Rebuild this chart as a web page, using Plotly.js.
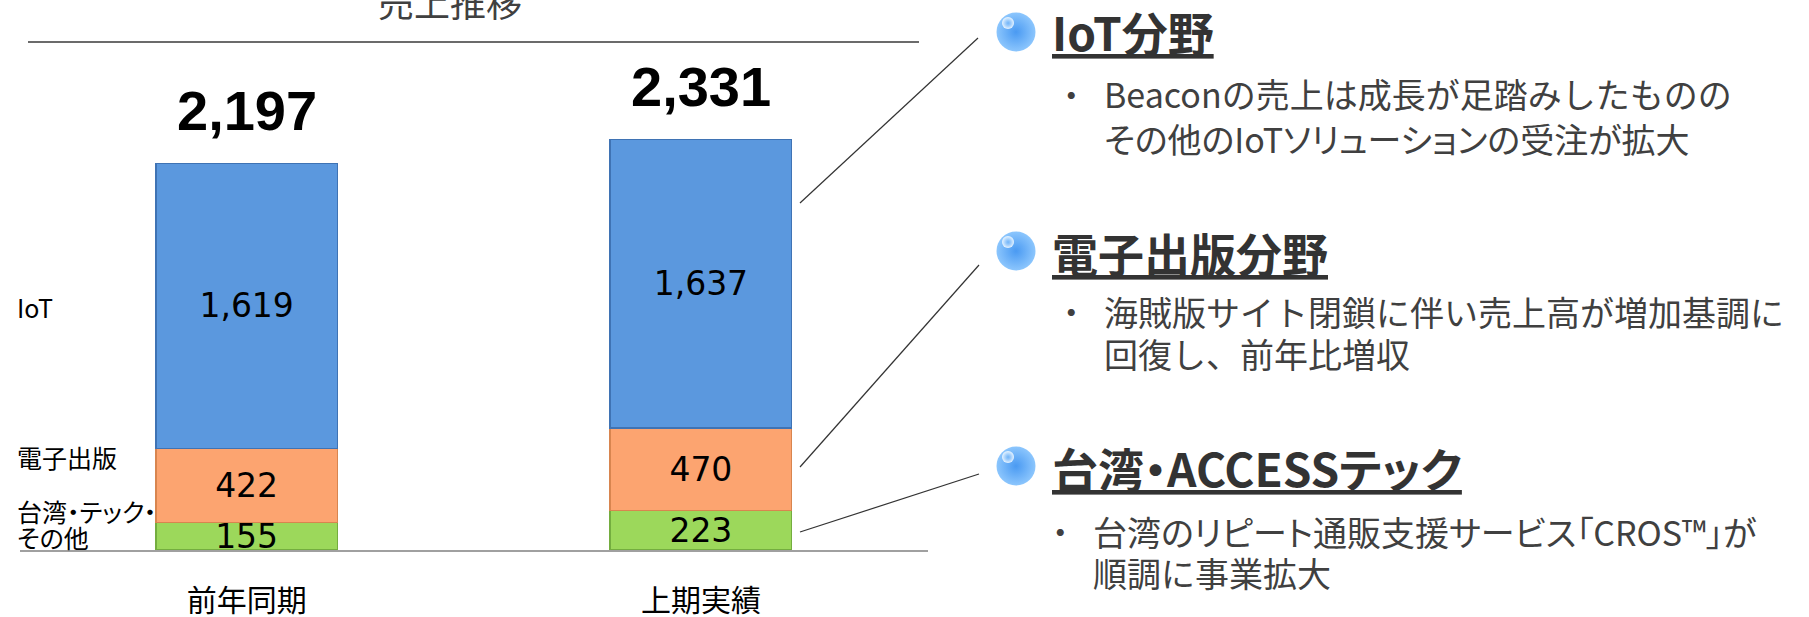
<!DOCTYPE html>
<html>
<head>
<meta charset="utf-8">
<script src="https://cdn.plot.ly/plotly-3.0.1.min.js"></script>
<style>
html,body{margin:0;padding:0;background:#ffffff;}
#chart{width:1809px;height:617px;}
</style>
</head>
<body>
<div id="chart"></div>
<script>
// ---------- DATA ----------
const categories = ['前年同期', '上期実績'];
const taiwanValues = [155, 223];
const ebookValues = [422, 470];
const iotValues = [1619, 1637];
const totals = [2197, 2331];
const chartTitle = '売上推移';
const sideLabels = ['IoT', '電子出版', '台湾・テック・', 'その他'];
const headings = ['IoT分野', '電子出版分野', '台湾・ACCESSテック'];
const noteLines = [
  ['Beaconの売上は成長が足踏みしたものの', 'その他のIoTソリューションの受注が拡大'],
  ['海賊版サイト閉鎖に伴い売上高が増加基調に', '回復し、前年比増収'],
  ['台湾のリピート通販支援サービス「CROS™」が', '順調に事業拡大']
];

// ---------- LAYOUT HELPERS ----------
const W = 1809, H = 617;
const px = x => x / W;
const py = y => 1 - y / H;
const fmt = v => v.toLocaleString('en-US');
const JP = '"Noto Sans CJK JP", "Noto Sans", sans-serif';
const palt = t => "<span style='font-feature-settings:\"palt\" 1'>" + t + "</span>";

function barTrace(name, vals, color, edge) {
  return {
    type: 'bar', name: name, x: categories, y: vals,
    text: vals.map(fmt), textposition: 'inside', insidetextanchor: 'middle',
    constraintext: 'none', textangle: 0,
    textfont: {family: '"DejaVu Sans", Verdana, sans-serif', size: 33, color: '#000000'},
    insidetextfont: {family: '"DejaVu Sans", Verdana, sans-serif', size: 33, color: '#000000'},
    marker: {color: color, line: {color: edge, width: 1.5}},
    width: 0.4, hoverinfo: 'skip', cliponaxis: false
  };
}

const traces = [
  barTrace('台湾・テック・その他', taiwanValues, '#9cd85b', '#74ad3f'),
  barTrace('電子出版', ebookValues, '#fca470', '#d8854f'),
  barTrace('IoT', iotValues, '#5b98de', '#3f73b4')
];

// decorative bullet spheres (pixel overlay axes)
const sphereX = [1016, 1016, 1016];
const sphereY = [32, 251, 466];
traces.push({
  type: 'scatter', mode: 'markers', x: sphereX, y: sphereY, xaxis: 'x2', yaxis: 'y2',
  marker: {size: 39, color: '#8cc6fd', gradient: {type: 'radial', color: '#4a9af2'}, line: {width: 0}},
  hoverinfo: 'skip', showlegend: false, cliponaxis: false
});
traces.push({
  type: 'scatter', mode: 'markers', x: sphereX.map(v => v - 8), y: sphereY.map(v => v - 9), xaxis: 'x2', yaxis: 'y2',
  marker: {size: 12, color: 'rgba(240,248,255,0.95)', gradient: {type: 'radial', color: 'rgba(200,228,255,0)'}, line: {width: 0}},
  hoverinfo: 'skip', showlegend: false, cliponaxis: false
});

const annotations = [];
// totals above bars
categories.forEach((c, i) => {
  annotations.push({
    x: c, y: totals[i], xref: 'x', yref: 'y', text: fmt(totals[i]), showarrow: false,
    yanchor: 'middle', yshift: 53,
    font: {family: '"Liberation Sans", Arial, sans-serif', size: 56, weight: 'bold', color: '#000000'}
  });
});
// chart title (cut by top edge)
annotations.push({
  x: px(450), y: py(1), xref: 'paper', yref: 'paper', text: chartTitle, showarrow: false,
  xanchor: 'center', yanchor: 'middle', font: {family: JP, size: 36, color: '#404040'}
});
// side labels
const sideY = [307, 457, 511, 537];
sideLabels.forEach((t, i) => {
  annotations.push({
    x: px(15), y: py(sideY[i]), xref: 'paper', yref: 'paper', text: palt(t), showarrow: false,
    xanchor: 'left', yanchor: 'middle', font: {family: JP, size: 25, color: '#000000'}
  });
});
// headings
const headY = [31, 252, 467];
headings.forEach((t, i) => {
  annotations.push({
    x: px(1050), y: py(headY[i]), xref: 'paper', yref: 'paper', text: '<b><u>' + palt(t) + '</u></b>', showarrow: false,
    xanchor: 'left', yanchor: 'middle', font: {family: JP, size: 46, weight: 'bold', color: '#333333'}
  });
});
// notes
const noteY = [[94, 138], [311, 354], [531, 572]];
const noteX = [1102, 1102, 1091];
const bulletX = [1071, 1071, 1060];
const paltLines = {'0-1': true, '2-0': true};
noteLines.forEach((lines, i) => {
  annotations.push({
    x: px(bulletX[i]), y: py(noteY[i][0]), xref: 'paper', yref: 'paper', text: palt('・'), showarrow: false,
    xanchor: 'center', yanchor: 'middle', font: {family: JP, size: 33, color: '#404040'}
  });
  lines.forEach((t, j) => {
    const txt = paltLines[i + '-' + j] ? palt(t) : t;
    annotations.push({
      x: px(noteX[i]), y: py(noteY[i][j]), xref: 'paper', yref: 'paper', text: txt, showarrow: false,
      xanchor: 'left', yanchor: 'middle', font: {family: JP, size: 34, color: '#404040'}
    });
  });
});

const lineStyle = {color: '#333333', width: 1.2};
const shapes = [
  {type: 'line', xref: 'paper', yref: 'paper', x0: px(28), x1: px(919), y0: py(42), y1: py(42), line: {color: '#3a3a3a', width: 1.5}},
  {type: 'line', xref: 'paper', yref: 'paper', x0: px(800), y0: py(203), x1: px(978), y1: py(38), line: lineStyle},
  {type: 'line', xref: 'paper', yref: 'paper', x0: px(800), y0: py(467), x1: px(979), y1: py(265), line: lineStyle},
  {type: 'line', xref: 'paper', yref: 'paper', x0: px(800), y0: py(532), x1: px(979), y1: py(474), line: lineStyle}
];

const layout = {
  width: W, height: H,
  margin: {l: 0, r: 0, t: 0, b: 0, pad: 0},
  paper_bgcolor: '#ffffff', plot_bgcolor: 'rgba(0,0,0,0)',
  barmode: 'stack', showlegend: false, hovermode: false,
  xaxis: {
    domain: [19.5 / W, 928 / W], range: [-0.5, 1.5], type: 'category',
    showline: true, linecolor: '#a0a0a0', linewidth: 2, ticks: '', showgrid: false, zeroline: false,
    tickfont: {family: JP, size: 30, color: '#000000'}, ticklabelstandoff: 23, fixedrange: true
  },
  yaxis: {
    domain: [(H - 550) / H, (H - 42) / H], range: [0, 2885],
    visible: false, showgrid: false, zeroline: false, fixedrange: true
  },
  xaxis2: {domain: [0, 1], range: [0, W], visible: false, anchor: 'y2', fixedrange: true},
  yaxis2: {domain: [0, 1], range: [H, 0], visible: false, anchor: 'x2', fixedrange: true},
  annotations: annotations,
  shapes: shapes
};

Plotly.newPlot('chart', traces, layout, {displayModeBar: false, staticPlot: true});
</script>
</body>
</html>
